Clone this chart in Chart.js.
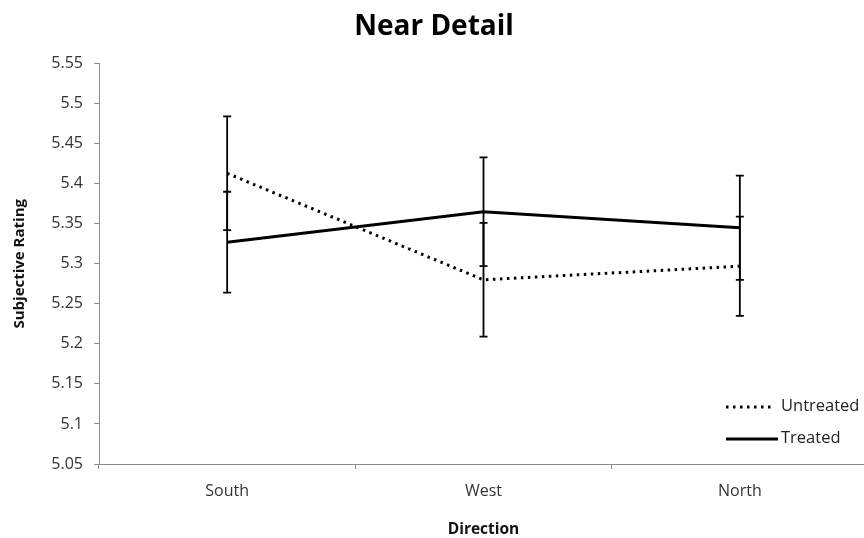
<!DOCTYPE html>
<html>
<head>
<meta charset="utf-8">
<script src="https://cdn.jsdelivr.net/npm/chart.js@4/dist/chart.umd.min.js"></script>
<style>
  html, body { margin: 0; padding: 0; background: #fff; overflow: hidden; }
  #wrap { width: 868px; height: 538px; }
</style>
</head>
<body>
<div id="wrap"><canvas id="myChart" width="868" height="538"></canvas></div>
<script>
// data
const directions = ['South', 'West', 'North'];
const untreated = [5.413, 5.280, 5.297];
const treated = [5.327, 5.365, 5.345];
const untreatedErr = [0.071, 0.071, 0.062];
const treatedErr = [0.063, 0.068, 0.065];
const yMin = 5.05, yMax = 5.55, yStep = 0.05;

const FONT = "'Open Sans', 'DejaVu Sans', sans-serif";

// vertical error bars with small caps, drawn through the chart scales
const errorBars = {
    id: 'errorBars',
    afterDatasetsDraw(chart) {
        const ctx = chart.ctx;
        const x = chart.scales.x;
        const y = chart.scales.y;
        chart.data.datasets.forEach(ds => {
            ds.errors.forEach((err, i) => {
                const px = x.getPixelForValue(i);
                const top = y.getPixelForValue(ds.data[i] + err);
                const bot = y.getPixelForValue(ds.data[i] - err);
                ctx.save();
                ctx.strokeStyle = '#000';
                ctx.lineWidth = 1.8;
                ctx.beginPath();
                ctx.moveTo(px, top); ctx.lineTo(px, bot);
                ctx.moveTo(px - 4, top); ctx.lineTo(px + 4, top);
                ctx.moveTo(px - 4, bot); ctx.lineTo(px + 4, bot);
                ctx.stroke();
                ctx.restore();
            });
        });
    }
};

// legend sitting inside the plot, bottom right
const cornerLegend = {
    id: 'cornerLegend',
    afterDraw(chart) {
        const ctx = chart.ctx;
        const rows = [407, 439];
        chart.data.datasets.forEach((ds, i) => {
            const yy = rows[i];
            ctx.save();
            ctx.strokeStyle = ds.borderColor;
            ctx.lineWidth = ds.borderWidth;
            ctx.setLineDash(ds.borderDash || []);
            ctx.beginPath();
            ctx.moveTo(726, yy);
            ctx.lineTo(ds.borderDash ? 774 : 778, yy);
            ctx.stroke();
            ctx.setLineDash([]);
            ctx.fillStyle = '#222';
            ctx.font = "16.5px " + FONT;
            ctx.textBaseline = 'middle';
            ctx.textAlign = 'left';
            ctx.fillText(ds.label, 781, yy - 1);
            ctx.restore();
        });
    }
};

new Chart(document.getElementById('myChart'), {
    type: 'line',
    data: {
        labels: directions,
        datasets: [{
            label: 'Untreated',
            data: untreated,
            errors: untreatedErr,
            borderColor: '#000',
            borderWidth: 3,
            borderDash: [2.5, 4.5],
            borderCapStyle: 'butt',
            pointRadius: 0,
            tension: 0,
            fill: false
        }, {
            label: 'Treated',
            data: treated,
            errors: treatedErr,
            borderColor: '#000',
            borderWidth: 3,
            pointRadius: 0,
            tension: 0,
            fill: false
        }]
    },
    options: {
        responsive: false,
        animation: false,
        layout: { padding: { left: 0, right: 0, top: 0, bottom: 0 } },
        scales: {
            x: {
                offset: true,
                grid: { offset: true, drawOnChartArea: false, tickLength: 5, color: '#8c8c8c' },
                border: { color: '#8c8c8c', width: 1 },
                ticks: { color: '#333', font: { family: FONT, size: 16 }, padding: 13 },
                title: { display: true, text: 'Direction', color: '#111', font: { family: FONT, size: 15.5, weight: 'bold' }, padding: { top: 4, bottom: -1 } },
                afterFit(scale) { scale.height = 74; }
            },
            y: {
                min: yMin,
                max: yMax,
                grid: { drawOnChartArea: false, tickLength: 5, color: '#8c8c8c' },
                border: { color: '#8c8c8c', width: 1 },
                ticks: {
                    stepSize: yStep,
                    color: '#333',
                    font: { family: FONT, size: 16 },
                    padding: 11,
                    callback: v => String(Math.round(v * 100) / 100)
                },
                title: { display: true, text: 'Subjective Rating', color: '#111', font: { family: FONT, size: 15, weight: 'bold' }, padding: { top: 11, bottom: 0 } },
                afterFit(scale) { scale.width = 99; }
            }
        },
        plugins: {
            legend: { display: false },
            tooltip: { enabled: false },
            title: {
                display: true,
                text: 'Near Detail',
                color: '#000',
                font: { family: FONT, size: 28, weight: 'bold' },
                padding: { top: 10, bottom: 20 }
            }
        }
    },
    plugins: [errorBars, cornerLegend]
});
</script>
</body>
</html>
